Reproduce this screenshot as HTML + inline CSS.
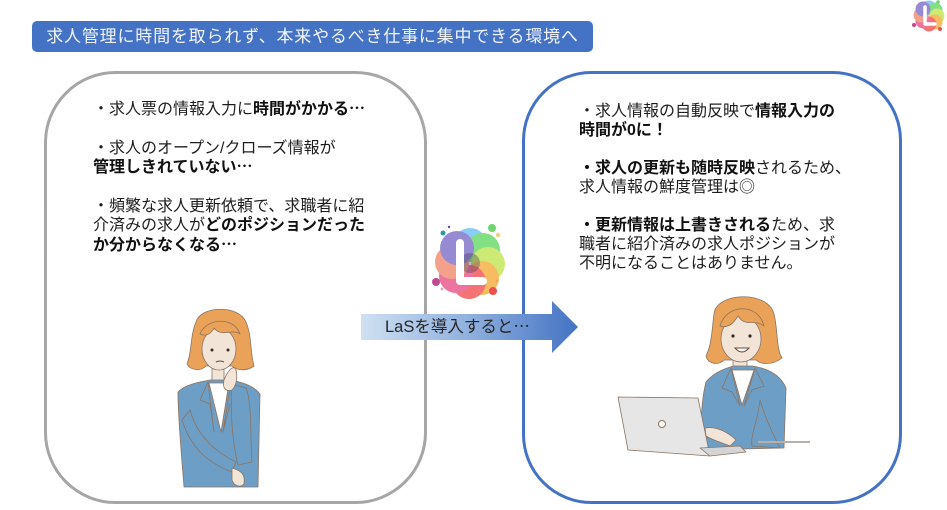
<!DOCTYPE html>
<html><head><meta charset="utf-8">
<style>
html,body{margin:0;padding:0;background:#fff;}
body{width:947px;height:510px;position:relative;overflow:hidden;font-family:"Liberation Sans","Noto Sans CJK JP",sans-serif;}
.banner{position:absolute;left:32px;top:21px;width:561px;height:31px;background:#4472c4;border-radius:5px;color:#f2f4fa;font-size:17px;letter-spacing:0.8px;line-height:31px;text-align:center;white-space:nowrap;}
.txt{position:absolute;font-size:16px;color:#1e1e1e;white-space:nowrap;}
.txt b{font-weight:bold;color:#111;}
.el{font-family:"Noto Sans CJK JP","WenQuanYi Zen Hei",sans-serif;line-height:0;}
.arrowtxt{position:absolute;left:385px;top:315px;font-size:16.5px;line-height:24px;color:#262626;white-space:nowrap;}
svg{position:absolute;left:0;top:0;}
</style></head><body>
<svg width="947" height="510" viewBox="0 0 947 510">
<defs>
<linearGradient id="ag" x1="361" y1="0" x2="578" y2="0" gradientUnits="userSpaceOnUse">
<stop offset="0" stop-color="#cfe0f2"/>
<stop offset="0.5" stop-color="#8fb0de"/>
<stop offset="1" stop-color="#4472c4"/>
</linearGradient>
</defs>
<!-- boxes -->
<rect x="45.5" y="72.5" width="380" height="430" rx="70" ry="70" fill="#fff" stroke="#a6a6a6" stroke-width="3"/>
<rect x="523.5" y="72.5" width="377" height="430" rx="68" ry="68" fill="#fff" stroke="#4472c4" stroke-width="3"/>

<!-- arrow -->
<path d="M361 314 L552 314 L552 301 L578 327 L552 353 L552 340 L361 340 Z" fill="url(#ag)"/>

<!-- center logo -->
<g opacity="0.7">
<circle cx="470" cy="245" r="17" fill="#5ab8ee"/>
<circle cx="483" cy="250" r="17" fill="#4fd24f"/>
<circle cx="488" cy="264" r="17" fill="#b9e23a"/>
<circle cx="482" cy="278" r="17" fill="#f5a020"/>
<circle cx="469" cy="282" r="17" fill="#f03a3a"/>
<circle cx="456" cy="276" r="17" fill="#e83a78"/>
<circle cx="452" cy="262" r="17" fill="#ee7a5a"/>
<circle cx="457" cy="248" r="17" fill="#6a5ac0"/>
</g>
<circle cx="470" cy="263" r="10" fill="#3a3a50" opacity="0.35"/>
<path d="M460 243 L460 281 L483 281" fill="none" stroke="#fff" stroke-width="8" stroke-linecap="round" stroke-linejoin="round"/>
<circle cx="443" cy="233" r="2.5" fill="#2a9aa8"/>
<circle cx="449" cy="227" r="1.2" fill="#5a4aa0"/>
<circle cx="492" cy="228" r="4" fill="#6fd46f"/>
<circle cx="498" cy="235" r="2.2" fill="#f2d27a"/>
<circle cx="436" cy="282" r="4" fill="#c04a90"/>
<circle cx="493" cy="291" r="4" fill="#ee5050"/>
<circle cx="442" cy="289" r="1.4" fill="#e0a0c0"/>
<circle cx="497" cy="281" r="1.4" fill="#f0a060"/>

<!-- top right logo -->
<g opacity="0.7">
<circle cx="929" cy="8" r="7.5" fill="#5ab8ee"/>
<circle cx="935" cy="10" r="7.5" fill="#4fd24f"/>
<circle cx="937" cy="16" r="7.5" fill="#b9e23a"/>
<circle cx="935" cy="22" r="7.5" fill="#f5a020"/>
<circle cx="929" cy="24" r="7.5" fill="#f03a3a"/>
<circle cx="923" cy="21" r="7.5" fill="#e83a78"/>
<circle cx="921" cy="15" r="7.5" fill="#ee7a5a"/>
<circle cx="923" cy="9" r="7.5" fill="#6a5ac0"/>
</g>
<path d="M925 7 L925 24 L935 24" fill="none" stroke="#fff" stroke-width="3.5" stroke-linecap="round" stroke-linejoin="round"/>
<circle cx="914" cy="25" r="2" fill="#c04a90"/>
<circle cx="940" cy="29" r="2" fill="#ee5050"/>
<circle cx="938" cy="2" r="1.8" fill="#6fd46f"/>

<!-- left woman -->
<g stroke="#8a7462" stroke-width="0.8" stroke-linejoin="round">
<path d="M196 322 C200 306 238 304 246 322 C252 336 250 352 254 366 C246 372 236 370 232 366 L206 366 C200 372 190 370 187 364 C192 352 190 336 196 322 Z" fill="#e9a257"/>
<rect x="212" y="368" width="12" height="14" fill="#f3e4d8"/>
<ellipse cx="219" cy="349" rx="17" ry="21" fill="#f3e4d8"/>
<path d="M200 334 C206 318 234 316 240 334 C232 328 222 338 214 328 C210 336 204 336 200 334 Z" fill="#e9a257"/>
<path d="M178 392 C186 384 200 382 210 380 L230 380 C242 382 254 386 260 394 L258 487 L184 487 C182 460 178 420 178 392 Z" fill="#6d9ec5"/>
<path d="M209 383 L229 383 L221 432 Z" fill="#fff"/>
<path d="M208 382 L200 400 L210 404 L214 432 Z" fill="#6d9ec5"/>
<path d="M231 382 L240 400 L230 404 L223 432 Z" fill="#6d9ec5"/>
<path d="M182 420 C190 445 205 462 232 472 L236 462 C216 452 198 438 190 410 Z" fill="#6d9ec5"/>
<path d="M232 384 C230 410 232 440 238 465 L252 462 C250 430 252 404 246 388 Z" fill="#6d9ec5"/>
<path d="M224 380 C228 370 234 364 236 370 C238 378 236 386 232 390 C226 392 222 388 224 380 Z" fill="#f3e4d8"/>
<path d="M232 468 C238 470 246 472 244 484 C240 488 234 486 232 480 Z" fill="#f3e4d8"/>
</g>
<circle cx="212" cy="350" r="1.5" fill="#3a2a20"/>
<circle cx="228" cy="350" r="1.5" fill="#3a2a20"/>
<path d="M216 362 Q220 360 224 362" stroke="#6a4a3a" stroke-width="1" fill="none"/>

<!-- right woman -->
<g stroke="#8a7462" stroke-width="0.8" stroke-linejoin="round">
<path d="M714 314 C716 292 768 290 774 314 C778 330 776 348 782 358 C772 366 760 364 756 360 L724 360 C718 366 708 364 706 356 C712 344 712 328 714 314 Z" fill="#e9a257"/>
<rect x="733" y="358" width="14" height="14" fill="#f3e4d8"/>
<ellipse cx="741" cy="339" rx="20" ry="23" fill="#f3e4d8"/>
<path d="M720 326 C726 304 758 302 764 326 C754 318 746 328 738 316 C732 326 726 328 720 326 Z" fill="#e9a257"/>
<path d="M706 382 C714 372 726 368 734 366 L752 366 C766 368 780 374 786 388 L784 448 L702 450 C700 420 702 398 706 382 Z" fill="#6d9ec5"/>
<path d="M732 370 L754 370 L742 405 Z" fill="#fff"/>
<path d="M731 368 L722 388 L732 392 L740 406 Z" fill="#6d9ec5"/>
<path d="M755 368 L764 386 L752 390 L744 406 Z" fill="#6d9ec5"/>
<path d="M618 397 L698 398 L710 456 L628 450 Z" fill="#e6e6e6"/>
<path d="M710 456 L700 448 L740 446 L746 452 Z" fill="#d4d4d4"/>
<path d="M705 428 C716 426 728 432 736 440 L730 446 C720 442 712 440 706 436 Z" fill="#f3e4d8"/>
<path d="M760 400 C766 420 772 432 780 448 L752 446 C750 436 758 420 760 400 Z" fill="#6d9ec5"/>
</g>
<circle cx="662" cy="424" r="3.5" fill="#fff" stroke="#8a7462" stroke-width="1"/>
<line x1="758" y1="442" x2="810" y2="442" stroke="#b8b0a8" stroke-width="2"/>
<circle cx="733" cy="336" r="1.6" fill="#3a2a20"/>
<circle cx="750" cy="336" r="1.6" fill="#3a2a20"/>
<path d="M735 348 Q742 356 749 348 Z" fill="#fff" stroke="#6a4a3a" stroke-width="1"/>
</svg>

<div class="banner">求人管理に時間を取られず、本来やるべき仕事に集中できる環境へ</div>

<div class="txt" style="left:93px;top:100px;line-height:19.4px;">・求人票の情報入力に<b>時間がかかる<span class="el">…</span></b><br><br>・求人のオープン/クローズ情報が<br><b>管理しきれていない<span class="el">…</span></b><br><br>・頻繁な求人更新依頼で、求職者に紹<br>介済みの求人が<b>どのポジションだった</b><br><b>か分からなくなる<span class="el">…</span></b></div>

<div class="txt" style="left:579px;top:101.5px;line-height:19px;">・求人情報の自動反映で<b>情報入力の</b><br><b>時間が0に！</b><br><br><b>・求人の更新も随時反映</b>されるため、<br>求人情報の鮮度管理は◎<br><br><b>・更新情報は上書きされる</b>ため、求<br>職者に紹介済みの求人ポジションが<br>不明になることはありません。</div>

<div class="arrowtxt">LaSを導入すると<span class="el">…</span></div>
</body></html>
